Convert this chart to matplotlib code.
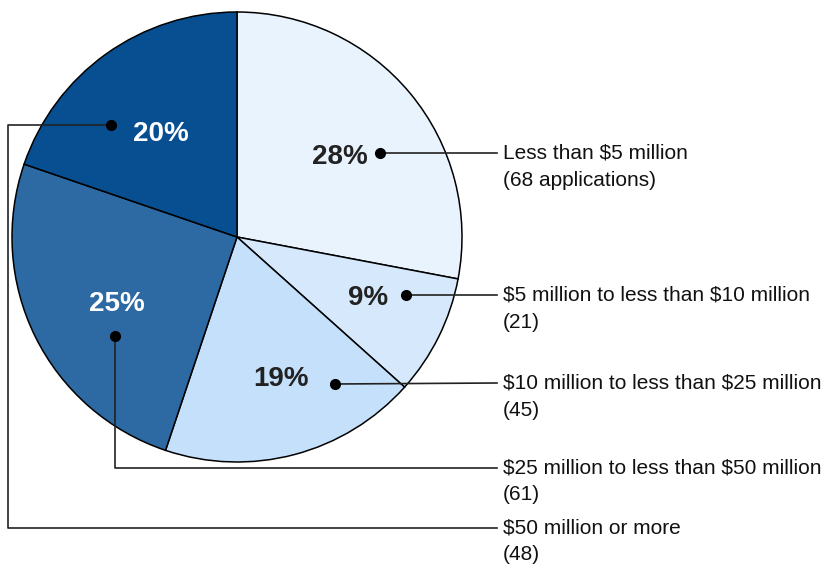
import matplotlib.pyplot as plt

# Data
categories = ["Less than $5 million", "$5 million to less than $10 million",
              "$10 million to less than $25 million", "$25 million to less than $50 million",
              "$50 million or more"]
counts = [68, 21, 45, 61, 48]
count_labels = ["(68 applications)", "(21)", "(45)", "(61)", "(48)"]
colors = ["#e8f3fe", "#d6e9fc", "#c4e0fa", "#2d69a3", "#074f91"]
pct_colors = ["#222222", "#222222", "#222222", "white", "white"]

W, H = 830, 566
plt.rcParams['font.family'] = ['Liberation Sans', 'DejaVu Sans']
plt.rcParams['text.parse_math'] = False

fig = plt.figure(figsize=(W / 100, H / 100), dpi=100)
ax = fig.add_axes([0, 0, 1, 1])

# pie (y axis is flipped, so counterclock=True draws clockwise on screen, start at top)
ax.pie(counts, colors=colors, center=(237, 237), radius=225, startangle=-90,
       counterclock=True, frame=True,
       wedgeprops=dict(edgecolor='black', linewidth=1.1))
ax.set_xlim(0, W)
ax.set_ylim(H, 0)
ax.set_aspect('equal')
ax.axis('off')

total = sum(counts)
pcts = [round(c / total * 100) for c in counts]

# layout of annotations (pixel positions)
pct_pos = [(340, 157), (368, 298), (281, 379), (117, 304), (161, 134)]
dot_pos = [(380, 153), (406, 295), (335, 384), (115, 336), (111, 125)]
label_y = [153, 295, 383, 468, 528]
text_x = 503
line_end = 497

for i in range(len(counts)):
    px, py = pct_pos[i]
    ax.text(px, py, f"{pcts[i]}%", ha='center', va='center', fontsize=20,
            fontweight='bold', color=pct_colors[i])
    dx, dy = dot_pos[i]
    ax.plot(dx, dy, 'o', color='black', markersize=7, zorder=5)
    ly = label_y[i]
    if i < 3:
        xs, ys = [dx, line_end], [dy, ly]
    elif i == 3:
        xs, ys = [dx, dx, line_end], [dy, ly, ly]
    else:
        xs, ys = [dx, 8, 8, line_end], [dy, dy, ly, ly]
    ax.plot(xs, ys, color='#222222', linewidth=1.2, zorder=4)
    ax.text(text_x, ly, categories[i], ha='left', va='center', fontsize=15, color='#111111')
    ax.text(text_x, ly + 27, count_labels[i], ha='left', va='center', fontsize=15, color='#111111')

fig.savefig("out.png", dpi=100)
